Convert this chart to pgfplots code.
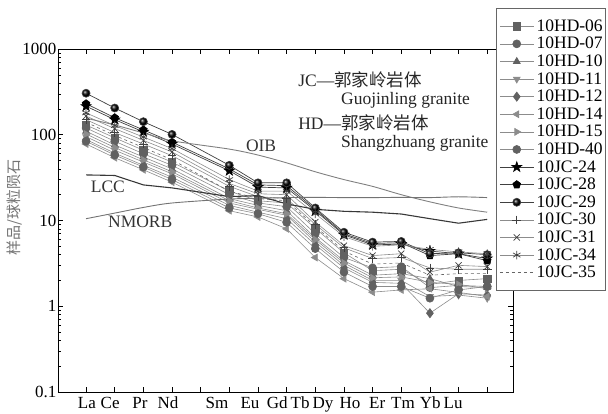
\documentclass[border=0pt]{standalone}
\usepackage{fontspec}
\setmainfont{Liberation Serif}
\newfontfamily\cjk{Noto Sans CJK SC}
\usepackage{pgfplots}
\pgfplotsset{compat=1.18}
\usetikzlibrary{plotmarks}
\pgfdeclareplotmark{fstar}{%
 \pgfpathmoveto{\pgfpointpolar{90}{1.3\pgfplotmarksize}}%
 \pgfpathlineto{\pgfpointpolar{126}{0.5\pgfplotmarksize}}%
 \pgfpathlineto{\pgfpointpolar{162}{1.3\pgfplotmarksize}}%
 \pgfpathlineto{\pgfpointpolar{198}{0.5\pgfplotmarksize}}%
 \pgfpathlineto{\pgfpointpolar{234}{1.3\pgfplotmarksize}}%
 \pgfpathlineto{\pgfpointpolar{270}{0.5\pgfplotmarksize}}%
 \pgfpathlineto{\pgfpointpolar{306}{1.3\pgfplotmarksize}}%
 \pgfpathlineto{\pgfpointpolar{342}{0.5\pgfplotmarksize}}%
 \pgfpathlineto{\pgfpointpolar{18}{1.3\pgfplotmarksize}}%
 \pgfpathlineto{\pgfpointpolar{54}{0.5\pgfplotmarksize}}%
 \pgfpathclose\pgfusepathqfillstroke}
\definecolor{hdline}{gray}{0.55}
\definecolor{hdmark}{gray}{0.38}
\definecolor{jcline}{gray}{0.25}
\begin{document}
\fontsize{17.5}{20}\selectfont
\begin{tikzpicture}
\useasboundingbox (-58pt,-22pt) rectangle (550pt,392pt);
\begin{axis}[
  at={(0pt,0pt)}, anchor=south west,
  scale only axis, width=455pt, height=343pt,
  ymode=log, ymin=0.1, ymax=1000,
  xmin=-0.98, xmax=14.9,
  xtick={0,...,14}, xticklabels={},
  extra x ticks={0.03,0.84,1.88,2.86,4.57,5.72,6.67,7.47,8.27,9.21,10.16,11.06,12.01,12.81},
  extra x tick labels={La,Ce,Pr,Nd,Sm,Eu,Gd,Tb,Dy,Ho,Er,Tm,Yb,Lu},
  extra x tick style={major tick length=0pt},
  ytick={0.1,1,10,100,1000}, yticklabels={0.1,1,10,100,1000},
  minor ytick={0.2,0.3,0.4,0.5,0.6,0.7,0.8,0.9,2,3,4,5,6,7,8,9,20,30,40,50,60,70,80,90,200,300,400,500,600,700,800,900},
  major tick length=5pt, minor tick length=3pt,
  tick style={black, line width=0.6pt},
  axis line style={line width=0.7pt},
  tick label style={font=\fontsize{17}{20}\selectfont},
  yticklabel style={inner xsep=1.5pt},
  xticklabel style={inner ysep=5pt},
  /pgf/number format/assume math mode=true,
  clip=false,
  legend cell align=left,
  legend style={at={(0.963,1.1195)}, anchor=north west, draw=black!60, line width=0.5pt,
    font=\fontsize{17.5}{20}\selectfont, row sep=3.6pt, column sep=2.5pt, inner xsep=3pt, inner ysep=11pt,
    nodes={inner sep=0pt, text height=12pt, text depth=2pt, anchor=west}},
  legend image code/.code={\draw[mark repeat=2,mark phase=2] plot coordinates {(0pt,0pt) (17pt,0pt) (34pt,0pt)};},
  hd/.style={color=hdline, line width=0.6pt, mark size=4pt, mark options={solid, fill=hdmark, draw=hdmark}},
  jc/.style={color=jcline, line width=0.7pt, mark size=4pt, mark options={solid, fill=black, draw=black}},
  jcg/.style={color=hdline, line width=0.6pt, mark size=4.3pt, mark options={solid, draw=black!75, line width=0.7pt}},
]
% samples
\addplot[hd, mark=square*, mark size=3.6pt] coordinates {(0,130)(1,92)(2,66)(3,48)(5,22)(6,17)(7,16)(8,8.1)(9,4.2)(10,2.6)(11,2.7)(12,1.8)(13,2.0)(14,2.1)};
\addlegendentry{10HD-06}
\addplot[hd, mark=*] coordinates {(0,120)(1,84)(2,60)(3,44)(5,20)(6,16)(7,14.5)(8,7.0)(9,3.7)(10,2.8)(11,2.9)(12,1.65)(13,1.75)(14,1.7)};
\addlegendentry{10HD-07}
\addplot[hd, mark=triangle*] coordinates {(0,110)(1,76)(2,55)(3,40)(5,18)(6,15)(7,13)(8,6.3)(9,3.4)(10,2.3)(11,2.4)(12,2.1)(13,1.7)(14,1.65)};
\addlegendentry{10HD-10}
\addplot[hd, mark=triangle*, mark options={rotate=180}] coordinates {(0,95)(1,66)(2,48)(3,35)(5,16)(6,13.5)(7,11.5)(8,5.6)(9,3.0)(10,2.0)(11,2.0)(12,1.3)(13,1.35)(14,1.24)};
\addlegendentry{10HD-11}
\addplot[hd, mark=diamond*, mark size=4.6pt] coordinates {(0,88)(1,61)(2,44)(3,32)(5,15)(6,12.5)(7,10.5)(8,5.2)(9,2.8)(10,1.9)(11,1.85)(12,0.83)(13,1.4)(14,1.35)};
\addlegendentry{10HD-12}
\addplot[hd, mark=triangle*, mark options={rotate=90}] coordinates {(0,78)(1,54)(2,39)(3,28)(5,13)(6,11)(7,8.0)(8,3.7)(9,2.1)(10,1.46)(11,1.55)(12,1.6)(13,1.45)(14,1.3)};
\addlegendentry{10HD-14}
\addplot[hd, mark=triangle*, mark options={rotate=-90}] coordinates {(0,102)(1,71)(2,51)(3,37)(5,17)(6,14)(7,12)(8,6.0)(9,3.2)(10,2.15)(11,2.2)(12,1.9)(13,1.8)(14,1.6)};
\addlegendentry{10HD-15}
\addplot[hd, mark=*] coordinates {(0,84)(1,58)(2,42)(3,30)(5,14)(6,12)(7,9.5)(8,4.7)(9,2.5)(10,1.7)(11,1.7)(12,1.24)(13,1.55)(14,1.7)};
\addlegendentry{10HD-40}
\addplot[jc, mark=fstar] coordinates {(0,215)(1,150)(2,108)(3,78)(5,38)(6,24.5)(7,24)(8,13)(9,6.8)(10,5.2)(11,5.3)(12,4.4)(13,4.1)(14,3.6)};
\addlegendentry{10JC-24}
\addplot[jc, mark=pentagon*] coordinates {(0,230)(1,158)(2,114)(3,82)(5,40)(6,26)(7,25.5)(8,13.5)(9,7.0)(10,5.4)(11,5.5)(12,3.9)(13,4.1)(14,3.4)};
\addlegendentry{10JC-28}
\addplot[jc, mark=ball, mark options={ball color=black}] coordinates {(0,305)(1,205)(2,142)(3,101)(5,44)(6,27.5)(7,27.5)(8,14)(9,7.3)(10,5.6)(11,5.7)(12,4.1)(13,4.2)(14,4.0)};
\addlegendentry{10JC-29}
\addplot[jcg, mark=+] coordinates {(0,150)(1,106)(2,78)(3,57)(5,25)(6,19)(7,18)(8,9.0)(9,4.8)(10,3.6)(11,3.7)(12,2.8)(13,2.7)(14,2.7)};
\addlegendentry{10JC-30}
\addplot[jcg, mark=x] coordinates {(0,165)(1,118)(2,86)(3,63)(5,27)(6,20.5)(7,20)(8,9.6)(9,5.1)(10,3.9)(11,4.1)(12,2.5)(13,3.0)(14,2.9)};
\addlegendentry{10JC-31}
\addplot[jcg, mark=asterisk] coordinates {(0,180)(1,128)(2,94)(3,69)(5,30)(6,22)(7,22)(8,12)(9,6.5)(10,5.0)(11,5.2)(12,4.6)(13,4.3)(14,4.1)};
\addlegendentry{10JC-34}
\addplot[color=black!60, line width=0.6pt, dashed, mark=none] coordinates {(0,140)(1,98)(2,71)(3,51)(5,22)(6,18)(7,17)(8,8.5)(9,4.4)(10,3.1)(11,3.2)(12,2.3)(13,2.4)(14,2.4)};
\addlegendentry{10JC-35}
% reference curves
\addplot[color=black!50, line width=0.9pt, smooth, forget plot] coordinates {(0,156)(1,130)(2,105)(3,85)(5,68)(6,58)(7,47)(8,37)(9,30)(10,25)(11,20)(12,16.5)(13,14)(14,12.5)};
\addplot[color=black!78, line width=1.1pt, forget plot] coordinates {(0,34)(1,33.5)(2,26)(3,24)(5,19)(6,19.5)(7,15.6)(8,13.5)(9,12.8)(10,12.5)(11,11.9)(12,10.5)(13,9.3)(14,10.3)};
\addplot[color=black!55, line width=0.9pt, smooth, forget plot] coordinates {(0,10.5)(1,12.2)(2,14.2)(3,16)(5,17.8)(6,18.1)(7,18.5)(8,18.6)(9,18.5)(10,18.5)(11,18.6)(12,18.5)(13,18.9)(14,18.5)};
% labels
\node[anchor=west, text=black!80] at (rel axis cs:0.40,0.717) {OIB};
\node[anchor=west, text=black!80] at (rel axis cs:0.059,0.598) {LCC};
\node[anchor=west, text=black!80] at (rel axis cs:0.097,0.496) {NMORB};
\node[anchor=west, text=black!85] at (rel axis cs:0.515,0.910) {JC—{\cjk 郭家岭岩体}};
\node[anchor=west, text=black!85] at (rel axis cs:0.609,0.851) {Guojinling granite};
\node[anchor=west, text=black!85] at (rel axis cs:0.515,0.784) {HD—{\cjk 郭家岭岩体}};
\node[anchor=west, text=black!85] at (rel axis cs:0.609,0.726) {Shangzhuang granite};
\node[rotate=90, text=black!55, font=\fontsize{15}{18}\selectfont\cjk] at (rel axis cs:-0.0945,0.539) {样品/球粒陨石};
\end{axis}
\end{tikzpicture}
\end{document}
